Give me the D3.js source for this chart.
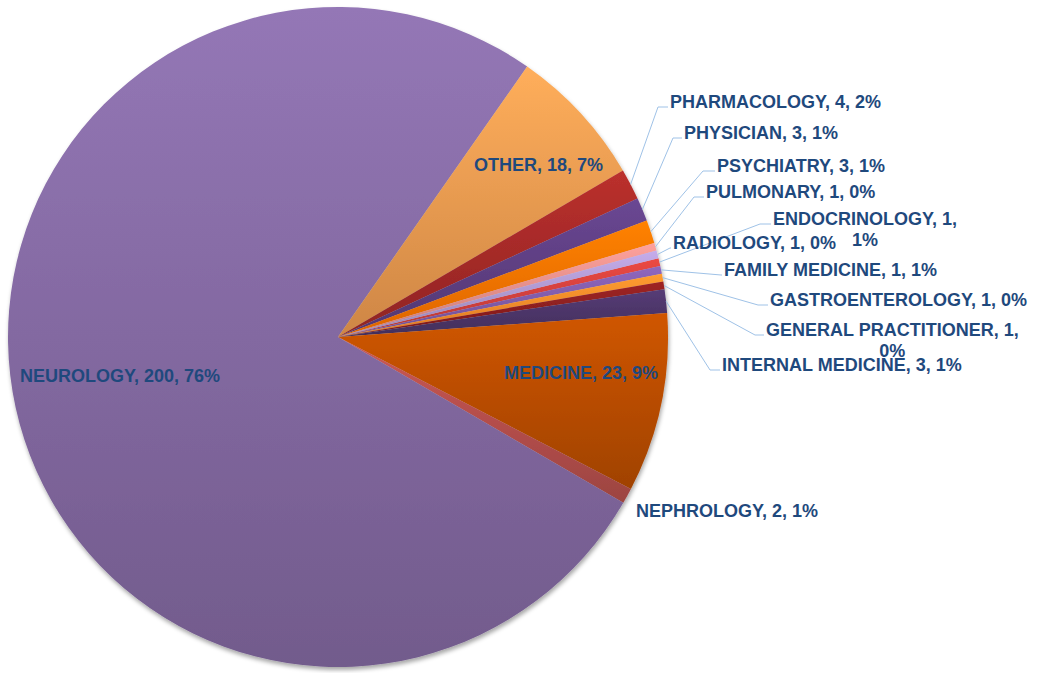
<!DOCTYPE html>
<html>
<head>
<meta charset="utf-8">
<script src="https://cdn.jsdelivr.net/npm/d3@7"></script>
<style>
  body { margin: 0; background: #fff; }
  text { font-family: "Liberation Sans", Arial, sans-serif; font-weight: bold; font-size: 18px; fill: #1f497d; }
</style>
</head>
<body>
<div id="chart"></div>
<script>
// data
var categories = ["ENDOCRINOLOGY", "FAMILY MEDICINE", "GASTROENTEROLOGY", "GENERAL PRACTITIONER",
    "INTERNAL MEDICINE", "MEDICINE", "NEPHROLOGY", "NEUROLOGY", "OTHER", "PHARMACOLOGY",
    "PHYSICIAN", "PSYCHIATRY", "PULMONARY", "RADIOLOGY"];
var counts = [1, 1, 1, 1, 3, 23, 2, 200, 18, 4, 3, 3, 1, 1];
var percents = ["1%", "1%", "0%", "0%", "1%", "9%", "1%", "76%", "7%", "2%", "1%", "1%", "0%", "0%"];

// slice colours (middle of the gradient)
var colors = ["#d0403c", "#7f5ba8", "#ff8a2a", "#8c1f1f", "#4c3568", "#b84c00", "#b44e4b",
    "#8369a1", "#ee9a50", "#a52a28", "#5e3f82", "#ff7300", "#e58e8a", "#ae98cf"];

// where each label sits: x, baseline y, x where the leader bends (null = no leader)
var labelLayout = {
    "NEUROLOGY":            { x: 20,  y: 382, bend: null, inside: true },
    "OTHER":                { x: 474, y: 171, bend: null, inside: true },
    "MEDICINE":             { x: 504, y: 379, bend: null, inside: true },
    "NEPHROLOGY":           { x: 636, y: 517, bend: null },
    "PHARMACOLOGY":         { x: 670, y: 108, bend: 658 },
    "PHYSICIAN":            { x: 684, y: 139, bend: 673 },
    "PSYCHIATRY":           { x: 717, y: 172, bend: 703 },
    "PULMONARY":            { x: 706, y: 198, bend: 694 },
    "ENDOCRINOLOGY":        { x: 773, y: 225, bend: 760, wrap: true },
    "RADIOLOGY":            { x: 673, y: 249, bend: 670 },
    "FAMILY MEDICINE":      { x: 724, y: 276, bend: 721 },
    "GASTROENTEROLOGY":     { x: 770, y: 306, bend: 758 },
    "GENERAL PRACTITIONER": { x: 766, y: 336, bend: 755, wrap: true },
    "INTERNAL MEDICINE":    { x: 722, y: 371, bend: 710 }
};

var width = 1042, height = 673;
var cx = 338, cy = 337, radius = 330;
var startDeg = 76.2;

var data = categories.map(function (c, i) {
    return { name: c, value: counts[i], pct: percents[i], color: colors[i] };
});

var svg = d3.select("#chart").append("svg")
    .attr("width", width)
    .attr("height", height);

var defs = svg.append("defs");

var shadow = defs.append("filter").attr("id", "shadow")
    .attr("x", "-5%").attr("y", "-5%").attr("width", "110%").attr("height", "110%");
shadow.append("feDropShadow")
    .attr("dx", 1).attr("dy", 3).attr("stdDeviation", 2)
    .attr("flood-color", "#000").attr("flood-opacity", 0.35);

data.forEach(function (d, i) {
    var g = defs.append("linearGradient").attr("id", "grad" + i)
        .attr("x1", 0).attr("y1", 0).attr("x2", 0).attr("y2", 1);
    g.append("stop").attr("offset", "0%").attr("stop-color", d3.rgb(d.color).brighter(0.35));
    g.append("stop").attr("offset", "100%").attr("stop-color", d3.rgb(d.color).darker(0.4));
});

var pie = d3.pie()
    .sort(null)
    .value(function (d) { return d.value; })
    .startAngle(startDeg * Math.PI / 180)
    .endAngle(startDeg * Math.PI / 180 + 2 * Math.PI);

var arc = d3.arc().innerRadius(0).outerRadius(radius);
var edge = d3.arc().innerRadius(radius).outerRadius(radius);

var arcs = pie(data);

var pieG = svg.append("g")
    .attr("transform", "translate(" + cx + "," + cy + ")")
    .attr("filter", "url(#shadow)");

pieG.selectAll("path")
    .data(arcs)
    .enter().append("path")
    .attr("d", arc)
    .attr("fill", function (d, i) { return "url(#grad" + i + ")"; });

// leader lines
var leaders = arcs.filter(function (d) { return labelLayout[d.data.name].bend !== null; });
svg.append("g").selectAll("polyline")
    .data(leaders)
    .enter().append("polyline")
    .attr("fill", "none")
    .attr("stroke", "#9fc2e7")
    .attr("stroke-width", 1)
    .attr("points", function (d) {
        var p = edge.centroid(d);
        var l = labelLayout[d.data.name];
        var ly = l.y - 1;
        return [[cx + p[0], cy + p[1]], [l.bend, ly], [l.x - 2, ly]].join(" ");
    });

// labels
var labels = svg.append("g").selectAll("text")
    .data(arcs)
    .enter().append("text")
    .attr("x", function (d) { return labelLayout[d.data.name].x; })
    .attr("y", function (d) { return labelLayout[d.data.name].y; });

labels.each(function (d) {
    var l = labelLayout[d.data.name];
    var t = d3.select(this);
    if (l.wrap) {
        var first = t.append("tspan").text(d.data.name + ", " + d.data.value + ",");
        var w = first.node().getComputedTextLength();
        t.append("tspan")
            .attr("x", l.x + w / 2)
            .attr("dy", 21)
            .attr("text-anchor", "middle")
            .text(d.data.pct);
    } else {
        t.text(d.data.name + ", " + d.data.value + ", " + d.data.pct);
    }
});
</script>
</body>
</html>
